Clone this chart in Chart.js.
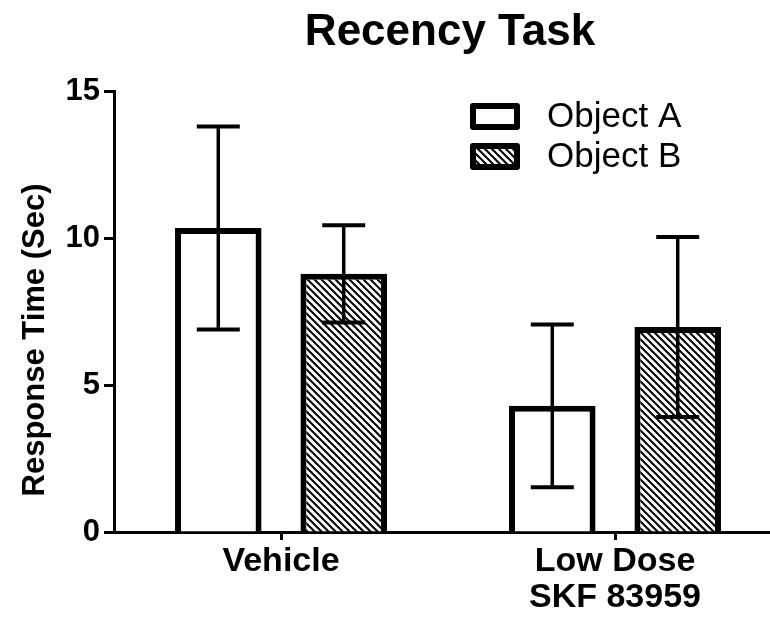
<!DOCTYPE html>
<html>
<head>
<meta charset="utf-8">
<script src="https://cdn.jsdelivr.net/npm/chart.js@4.4.0/dist/chart.umd.min.js"></script>
<style>
  html, body { margin: 0; padding: 0; background: #fff; overflow: hidden; }
  #wrap { width: 782px; height: 620px; }
</style>
</head>
<body>
<div id="wrap"><canvas id="myChart"></canvas></div>
<script>
// data
const categories = ['Vehicle', ['Low Dose', 'SKF 83959']];
const seriesNames = ['Object A', 'Object B'];
const objectA = [10.34, 4.29];
const errorA = [3.45, 2.77];
const objectB = [8.78, 6.97];
const errorB = [1.65, 3.06];
const yTicks = [0, 5, 10, 15];

const chartTitle = 'Recency Task';
const yTitle = 'Response Time (Sec)';
const FONT = '"Liberation Sans", Arial, sans-serif';

Chart.defaults.font.family = FONT;
Chart.defaults.color = '#000';

function makeHatch() {
  const s = 7;
  const c = document.createElement('canvas');
  c.width = s;
  c.height = s;
  const g = c.getContext('2d');
  g.fillStyle = '#fff';
  g.fillRect(0, 0, s, s);
  g.strokeStyle = '#000';
  g.lineWidth = 2;
  g.beginPath();
  g.moveTo(-1, -1); g.lineTo(s + 1, s + 1);
  g.moveTo(-1, s - 1); g.lineTo(1, s + 1);
  g.moveTo(s - 1, -1); g.lineTo(s + 1, 1);
  g.stroke();
  return g.createPattern(c, 'repeat');
}

const hatch = makeHatch();

// error bars drawn on top of the bars
const errorBars = {
  id: 'errorBars',
  afterDatasetsDraw(chart) {
    const ctx = chart.ctx;
    const y = chart.scales.y;
    chart.data.datasets.forEach((ds, i) => {
      const meta = chart.getDatasetMeta(i);
      meta.data.forEach((bar, j) => {
        const top = y.getPixelForValue(ds.data[j] + ds.errors[j]);
        const bot = y.getPixelForValue(ds.data[j] - ds.errors[j]);
        ctx.save();
        ctx.strokeStyle = '#000';
        ctx.lineWidth = 3.5;
        ctx.beginPath();
        ctx.moveTo(bar.x, top);
        ctx.lineTo(bar.x, bot);
        ctx.stroke();
        ctx.lineWidth = 4;
        ctx.beginPath();
        ctx.moveTo(bar.x - 21.5, top); ctx.lineTo(bar.x + 21.5, top);
        ctx.moveTo(bar.x - 21.5, bot); ctx.lineTo(bar.x + 21.5, bot);
        ctx.stroke();
        ctx.restore();
      });
    });
  }
};

// title, y title and legend
const extras = {
  id: 'extras',
  afterDraw(chart) {
    const ctx = chart.ctx;
    ctx.save();
    ctx.fillStyle = '#000';
    ctx.textAlign = 'center';
    ctx.textBaseline = 'middle';
    ctx.font = 'bold 44px ' + FONT;
    ctx.fillText(chartTitle, 450, 33);

    ctx.save();
    ctx.translate(35, 340);
    ctx.rotate(-Math.PI / 2);
    ctx.font = 'bold 31px ' + FONT;
    ctx.fillText(yTitle, 0, 0);
    ctx.restore();

    const fills = ['#fff', hatch];
    seriesNames.forEach((name, i) => {
      const by = 103 + i * 40;
      ctx.fillStyle = fills[i];
      ctx.fillRect(473, by + 3, 44, 21);
      ctx.strokeStyle = '#000';
      ctx.lineWidth = 6;
      ctx.lineJoin = 'round';
      ctx.strokeRect(473, by + 3, 44, 21);
      ctx.fillStyle = '#000';
      ctx.textAlign = 'left';
      ctx.font = '35px ' + FONT;
      ctx.fillText(name, 547, by + 14);
    });
    ctx.restore();
  }
};

const ctx = document.getElementById('myChart').getContext('2d');

new Chart(ctx, {
  type: 'bar',
  data: {
    labels: categories,
    datasets: [
      {
        label: seriesNames[0],
        data: objectA,
        errors: errorA,
        backgroundColor: '#fff',
        borderColor: '#000',
        borderWidth: 6,
        categoryPercentage: 0.751,
        barPercentage: 0.69
      },
      {
        label: seriesNames[1],
        data: objectB,
        errors: errorB,
        backgroundColor: hatch,
        borderColor: '#000',
        borderWidth: 6,
        categoryPercentage: 0.751,
        barPercentage: 0.69
      }
    ]
  },
  options: {
    responsive: true,
    maintainAspectRatio: false,
    animation: false,
    layout: { padding: { top: 91, left: 0, right: 0, bottom: 0 } },
    plugins: {
      legend: { display: false },
      title: { display: false },
      tooltip: { enabled: false }
    },
    scales: {
      x: {
        grid: {
          drawOnChartArea: false,
          drawTicks: true,
          tickLength: 8,
          tickWidth: 3,
          tickColor: '#000',
          offset: false
        },
        border: { display: true, color: '#000', width: 3 },
        ticks: {
          color: '#000',
          font: { size: 34, weight: 'bold', lineHeight: 1.05 },
          padding: 4,
          maxRotation: 0,
          autoSkip: false
        },
        afterFit(s) { s.height = 88; }
      },
      y: {
        min: 0,
        max: 15,
        grid: {
          drawOnChartArea: false,
          drawTicks: true,
          tickLength: 10,
          tickWidth: 3,
          tickColor: '#000'
        },
        border: { display: true, color: '#000', width: 3 },
        ticks: {
          color: '#000',
          font: { size: 31, weight: 'bold' },
          padding: 4
        },
        afterBuildTicks(s) { s.ticks = yTicks.map(v => ({ value: v })); },
        afterFit(s) { s.width = 114; }
      }
    }
  },
  plugins: [errorBars, extras]
});
</script>
</body>
</html>
